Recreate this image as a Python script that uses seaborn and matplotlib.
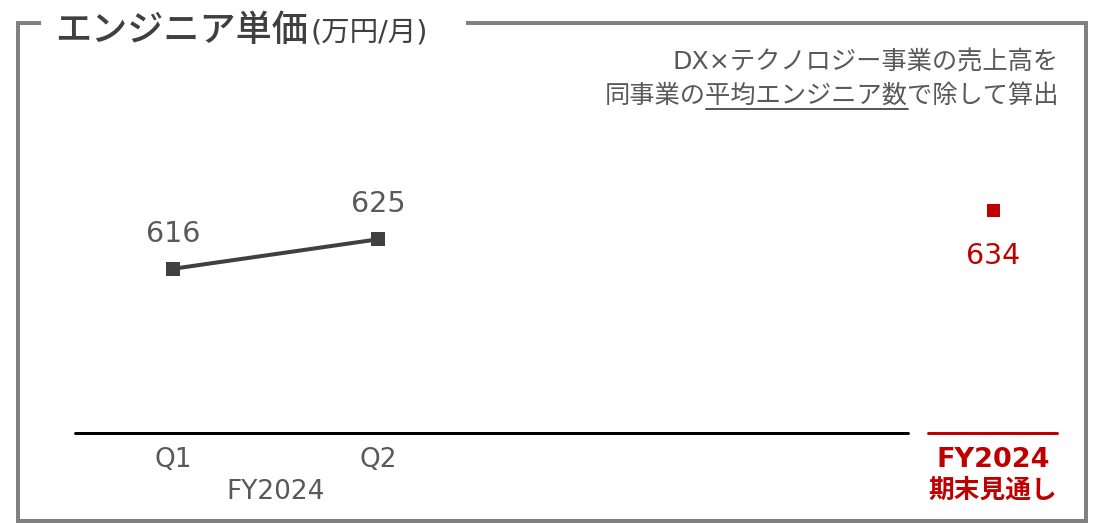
import numpy as np
import pandas as pd
import matplotlib
matplotlib.use("Agg")
import matplotlib.pyplot as plt
from matplotlib.lines import Line2D
import seaborn as sns

# ---- data ----
categories = ["Q1", "Q2"]
values = [616, 625]
group_label = "FY2024"
outlook_value = 634
outlook_label_1 = "FY2024"
outlook_label_2 = "期末見通し"
title_main = "エンジニア単価"
title_unit = "(万円/月)"
note_line1 = "DX×テクノロジー事業の売上高を"
note_pre, note_mid, note_post = "同事業の", "平均エンジニア数", "で除して算出"

# ---- style ----
sns.set_theme(style="white")
FAM = ['DejaVu Sans', 'Noto Sans CJK JP']
plt.rcParams['font.family'] = FAM

DARK = "#404040"
GRAY = "#595959"
RED = "#C00000"
BORDER = "#808080"

W, H = 1094, 523
fig = plt.figure(figsize=(W / 100, H / 100), dpi=100)
px = 72 / 100  # points per pixel

def fx(x):
    return x / W

def fy(y):
    return (H - y) / H

# axes: left 75px, right 1057px, top 100px, bottom 433px
ax = fig.add_axes([fx(75), fy(433), fx(1057) - fx(75), fy(100) - fy(433)])

df = pd.DataFrame({"x": np.arange(len(categories)), "y": values, "cat": categories})
outlook_x = len(categories) + 2

sns.lineplot(data=df, x="x", y="y", ax=ax, color=DARK, linewidth=4 * px,
             marker="s", markersize=14 * px, markeredgewidth=0, markerfacecolor=DARK)
sns.scatterplot(x=[outlook_x], y=[outlook_value], ax=ax, color=RED, marker="s",
                s=(13 * px) ** 2, linewidth=0)

ymin = 565.9
ax.set_xlim(-0.478, 4.312)
ax.set_ylim(ymin, 667.5)
for s in ax.spines.values():
    s.set_visible(False)
ax.set_xticks([])
ax.set_yticks([])
ax.set_xlabel("")
ax.set_ylabel("")

# baselines
ax.axhline(ymin, xmin=0, xmax=(908 - 75) / 982, color="black", lw=3 * px, clip_on=False)
ax.axhline(ymin, xmin=(928 - 75) / 982, xmax=1.0, color=RED, lw=3 * px, clip_on=False)

# value labels
for xi, v in zip(df["x"], values):
    ax.annotate(f"{v}", (xi, v), xytext=(0, 35 * px), textcoords="offset points",
                ha="center", va="center", fontsize=20.5, color=GRAY)
ax.annotate(f"{outlook_value}", (outlook_x, outlook_value), xytext=(0, -46 * px),
            textcoords="offset points", ha="center", va="center", fontsize=20.5, color=RED)

# category labels
for xi, c in zip(df["x"], categories):
    ax.annotate(c, (xi, 0), xycoords=("data", "axes fraction"), xytext=(0, -27 * px),
                textcoords="offset points", ha="center", va="center", fontsize=19, color=GRAY)
ax.annotate(group_label, (df["x"].mean(), 0), xycoords=("data", "axes fraction"),
            xytext=(0, -59 * px), textcoords="offset points", ha="center", va="center",
            fontsize=19, color=GRAY)
ax.annotate(outlook_label_1, (outlook_x, 0), xycoords=("data", "axes fraction"),
            xytext=(0, -27 * px), textcoords="offset points", ha="center", va="center",
            fontsize=19.5, color=RED, fontweight="bold")
ax.annotate(outlook_label_2, (outlook_x, 0), xycoords=("data", "axes fraction"),
            xytext=(0, -58 * px), textcoords="offset points", ha="center", va="center",
            fontsize=18.5, color=RED, fontweight="bold")

# border frame with gap for title
lw_b = 4 * px
segs = [
    ([16, 41], [23, 23]),
    ([466, 1088], [23, 23]),
    ([18, 18], [21, 523]),
    ([1086, 1086], [21, 523]),
    ([16, 1088], [521, 521]),
]
for xs, ys in segs:
    fig.add_artist(Line2D([fx(x) for x in xs], [fy(y) for y in ys], color=BORDER,
                          lw=lw_b, solid_capstyle="butt"))

# title
renderer = fig.canvas.get_renderer()
t1 = fig.text(fx(55), fy(41), title_main, fontsize=26, color=DARK, va="baseline",
              ha="left", fontweight="medium")
bb = t1.get_window_extent(renderer)
fig.text(bb.x1 / fig.dpi / fig.get_figwidth() + 0.002, fy(41), title_unit, fontsize=20.5,
         color=DARK, va="baseline", ha="left")

# note
right = fx(1059)
fig.text(right, fy(62), note_line1, fontsize=18.2, color=GRAY, ha="right", va="center")
full = note_pre + note_mid + note_post
t2 = fig.text(right, fy(96), full, fontsize=18.2, color=GRAY, ha="right", va="center")

def width_of(s):
    tt = fig.text(0, 0, s, fontsize=18.2)
    w = tt.get_window_extent(renderer).width
    tt.remove()
    return w

wf = width_of(full)
wp = width_of(note_pre)
wm = width_of(note_pre + note_mid)
x_right_px = right * W
x0 = x_right_px - wf + wp
x1 = x_right_px - wf + wm
fig.add_artist(Line2D([x0 / W, x1 / W], [fy(109), fy(109)], color=GRAY, lw=2 * px))

fig.savefig("out.png", dpi=100)
